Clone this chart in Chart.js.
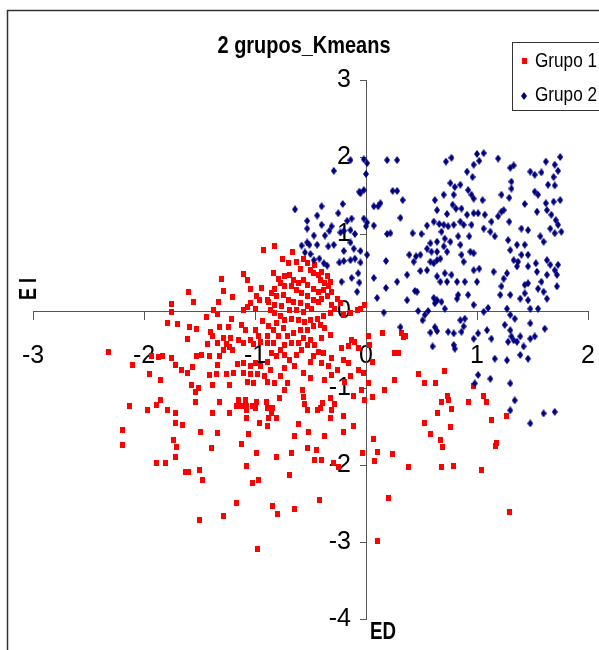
<!DOCTYPE html>
<html><head><meta charset="utf-8">
<script src="https://cdn.jsdelivr.net/npm/chart.js@4"></script>
<style>html,body{margin:0;padding:0;background:#fff;overflow:hidden}#wrap{position:relative;width:599px;height:650px}</style>
</head><body><div id="wrap"><canvas id="c" width="599" height="650"></canvas></div>
<script>
const chartTitle = '2 grupos_Kmeans';
const seriesNames = ['Grupo 1', 'Grupo 2'];
const xAxisName = 'ED';
const yAxisName = 'E I';
const xTickValues = [-3, -2, -1, 0, 1, 2];
const xTickLabels = ['-3', '-2', '-1', '0', '1', '2'];
const yTickValues = [-4, -3, -2, -1, 0, 1, 2, 3];
const yTickLabels = ['-4', '-3', '-2', '-1', '0', '1', '2', '3'];

const grupo1 = [
[-0.92,0.79],[-1.10,0.48],[-1.07,0.40],[-1.30,0.41],[-1.28,0.26],[-1.60,0.25],[-1.55,0.12],[-1.33,0.12],[-1.20,0.18],[-1.04,0.28],
[-0.94,0.30],[-0.99,0.19],[-0.96,0.14],[-0.89,0.14],[-0.88,0.12],[-1.04,0.11],[-1.75,0.09],[-1.75,-0.01],[-1.37,0.01],[-1.34,-0.04],
[-1.44,-0.08],[-1.21,-0.10],[-1.10,0.01],[-1.07,0.05],[-1.00,0.03],[-1.79,-0.15],[-1.70,-0.17],[-1.59,-0.21],[-1.53,-0.23],[-1.61,-0.37],
[-1.40,-0.27],[-1.32,-0.21],[-1.24,-0.21],[-1.38,-0.32],[-1.28,-0.35],[-1.22,-0.35],[-1.12,-0.18],[-1.09,-0.25],[-1.00,-0.25],[-0.97,-0.33],
[-0.93,-0.13],[-0.88,-0.20],[-0.89,-0.33],[-1.43,-0.43],[-1.34,-0.42],[-1.26,-0.43],[-1.15,-0.38],[-1.10,-0.41],[-1.04,-0.38],[-1.01,-0.43],
[-0.95,-0.40],[-0.89,-0.42],[-2.32,-0.53],[-2.10,-0.70],[-1.95,-0.82],[-1.93,-0.58],[-1.87,-0.60],[-1.83,-0.58],[-1.75,-0.61],[-1.72,-0.70],
[-1.66,-0.76],[-1.61,-0.81],[-1.56,-0.73],[-1.53,-0.58],[-1.48,-0.57],[-1.41,-0.58],[-1.32,-0.59],[-1.28,-0.51],[-1.23,-0.47],[-1.20,-0.51],
[-1.16,-0.69],[-1.34,-0.70],[-1.41,-0.83],[-1.35,-0.82],[-1.26,-0.82],[-1.19,-0.81],[-1.23,-0.96],[-1.10,-0.68],[-1.04,-0.72],[-1.00,-0.68],
[-0.95,-0.72],[-0.89,-0.66],[-1.10,-0.81],[-1.04,-0.82],[-0.98,-0.82],[-0.91,-0.85],[-0.86,-0.77],[-1.07,-0.92],[-1.01,-0.94],[-1.57,-0.96],
[-1.51,-1.00],[-1.38,-0.96],[-1.85,-0.90],[-0.89,-0.92],
[-1.54,-1.05],[-1.54,-1.18],[-1.65,-1.48],[-1.49,-1.57],[-1.39,-1.78],[-1.34,-1.59],[-1.63,-2.09],[-1.60,-2.09],[-1.50,-2.06],[-1.47,-2.19],
[-1.32,-1.18],[-1.38,-1.33],[-1.23,-1.33],[-1.17,-1.24],[-1.12,-1.24],[-1.15,-1.16],[-1.09,-1.16],[-1.08,-1.24],[-1.02,-1.23],[-1.00,-1.26],
[-0.99,-1.18],[-1.08,-1.39],[-1.08,-1.29],[-0.96,-1.45],[-0.89,-1.49],[-0.88,-1.39],[-0.84,-1.26],[-0.85,-1.33],[-0.81,-1.39],[-0.89,-1.26],
[-0.90,-1.18],[-0.78,-1.13],[-0.73,-1.03],[-0.57,-1.03],[-0.56,-1.12],[-0.55,-1.21],[-0.53,-1.28],[-0.61,-1.47],[-0.64,-1.62],[-0.52,-1.57],
[-0.44,-1.28],[-0.41,-1.26],[-0.39,-1.20],[-0.32,-1.13],[-0.28,-1.21],[-0.31,-1.29],[-0.32,-1.39],[-0.20,-1.37],[-0.11,-1.49],[-0.20,-1.57],
[-0.37,-1.62],[-0.53,-1.78],[-0.45,-1.80],[-0.46,-1.93],[-0.40,-1.94],[-0.67,-1.85],[-0.81,-1.89],[-0.99,-1.85],[-1.12,-1.73],[-1.06,-1.60],
[-1.08,-2.01],[-1.02,-2.24],[-0.97,-2.19],[-0.69,-2.13],[-0.29,-1.98],[-0.25,-2.02],[-0.03,-1.85],[-0.01,-1.15],[-0.11,-1.11],
[-2.13,-1.24],[-1.97,-1.29],[-1.89,-1.22],[-1.85,-1.15],[-1.79,-1.29],[-1.72,-1.33],[-1.72,-1.45],[-2.19,-1.55],[-2.19,-1.74],[-1.73,-1.67],
[-1.71,-1.77],[-1.72,-1.90],[-1.89,-1.98],[-1.81,-1.98],[-1.17,-2.49],[-1.28,-2.66],[-1.50,-2.71],[-0.98,-3.09],
[-0.82,0.84],[-0.66,0.76],[-0.75,0.67],[-0.70,0.62],[-0.63,0.64],[-0.56,0.68],[-0.53,0.62],[-0.59,0.55],[-0.50,0.53],[-0.46,0.60],
[-0.47,0.49],[-0.43,0.47],[-0.40,0.51],[-0.35,0.45],[-0.32,0.38],[-0.37,0.36],[-0.41,0.40],[-0.83,0.49],[-0.79,0.42],[-0.73,0.45],
[-0.69,0.47],[-0.65,0.40],[-0.61,0.36],[-0.56,0.40],[-0.53,0.34],[-0.47,0.29],[-0.43,0.25],[-0.38,0.27],[-0.34,0.32],[-0.31,0.25],
[-0.35,0.19],[-0.40,0.16],[-0.43,0.12],[-0.47,0.14],[-0.53,0.19],[-0.58,0.23],[-0.63,0.27],[-0.67,0.32],[-0.73,0.32],[-0.77,0.36],
[-0.82,0.29],[-0.85,0.23],[-0.81,0.19],[-0.74,0.21],[-0.70,0.14],[-0.65,0.12],[-0.59,0.10],[-0.53,0.06],[-0.49,0.03],[-0.56,-0.01],
[-0.63,0.01],[-0.69,0.01],[-0.76,0.06],[-0.82,0.08],[-0.86,0.01],[-0.82,-0.03],[-0.77,-0.07],[-0.73,-0.12],[-0.67,-0.10],[-0.61,-0.12],
[-0.55,-0.14],[-0.50,-0.12],[-0.44,-0.10],[-0.38,-0.07],[-0.32,-0.03],[-0.28,0.03],[-0.20,-0.05],[-0.14,-0.03],[-0.08,0.01],[-0.05,0.03],
[-0.01,0.08],[-0.23,0.10],[-0.26,0.16],[-0.31,0.08],[-0.81,-0.16],[-0.74,-0.22],[-0.83,-0.25],[-0.79,-0.33],[-0.71,-0.33],[-0.65,-0.29],
[-0.59,-0.25],[-0.53,-0.25],[-0.47,-0.20],[-0.41,-0.18],[-0.37,-0.22],[-0.56,-0.35],[-0.61,-0.42],[-0.67,-0.42],[-0.73,-0.44],[-0.77,-0.51],
[-0.83,-0.42],[-0.85,-0.55],[-0.81,-0.59],[-0.73,-0.57],[-0.69,-0.64],[-0.63,-0.57],[-0.58,-0.51],[-0.53,-0.44],[-0.50,-0.38],[-0.46,-0.44],
[-0.40,-0.35],[-0.32,-0.31],[-0.38,-0.55],[-0.43,-0.53],[-0.47,-0.59],[-0.50,-0.66],[-0.40,-0.68],[-0.34,-0.72],[-0.31,-0.61],[-0.22,-0.48],
[-0.16,-0.46],[-0.13,-0.38],[-0.10,-0.40],[-0.07,-0.48],[-0.20,-0.64],[-0.16,-0.68],[-0.26,-0.77],[-0.14,-0.85],[-0.19,-0.92],[-0.07,-0.77],
[-0.02,-0.81],[-0.31,-0.83],[-0.37,-0.90],[-0.50,-0.87],[-0.56,-0.81],[-0.64,-0.72],[-0.73,-0.74],[-0.77,-0.85],[-0.82,-0.94],[-0.71,-0.94],
[-0.04,-1.02],
[0.02,-0.32],[0.15,-0.28],[0.32,-0.28],[0.34,-0.34],[0.36,-0.33],[0.03,-0.44],[0.26,-0.54],[0.29,-0.54],[0.06,-0.66],[0.02,-0.93],
[0.06,-1.12],[0.17,-1.03],[0.26,-0.90],[0.47,-0.82],[0.53,-0.94],[0.63,-0.94],[0.64,-1.32],[0.53,-1.45],[0.58,-1.60],[0.67,-1.68],
[0.69,-1.77],[1.18,-1.71],[1.17,-1.75],[0.07,-1.66],[0.10,-1.83],[0.08,-1.95],[0.24,-1.86],[0.38,-2.03],[0.68,-2.03],[0.79,-2.01],
[1.04,-2.07],[0.20,-2.43],[1.29,-2.61],[0.10,-2.99],
[0.71,-0.78],[0.97,-0.98],[0.73,-1.11],[0.74,-1.16],[0.68,-1.18],[0.92,-1.18],[1.06,-1.11],[1.09,-1.18],[0.77,-1.27],[1.13,-1.42],
[1.27,-1.37],[0.76,-1.50],
[-0.84,-2.53],[-0.80,-2.64],[-0.64,-2.57],[-0.42,-2.46]
];

const grupo2 = [
[0.72,1.94],[0.77,1.99],[1.00,2.04],[1.06,2.05],[1.02,1.95],[1.19,1.98],[0.97,1.90],[0.91,1.81],[0.96,1.74],[1.30,1.86],
[1.33,1.89],[1.48,1.81],[1.52,1.77],[1.58,1.80],[1.62,1.94],[1.70,1.90],[1.75,2.00],[1.73,1.82],[1.69,1.74],[1.64,1.64],
[1.70,1.63],[1.31,1.68],[1.31,1.59],[1.22,1.51],[1.29,1.47],[0.76,1.66],[0.80,1.61],[0.85,1.64],[0.92,1.57],[0.95,1.51],
[0.97,1.46],[1.05,1.44],[0.70,1.51],[0.79,1.51],[0.78,1.38],[0.81,1.33],[0.73,1.26],[0.86,1.33],[0.91,1.25],[0.97,1.27],
[1.01,1.27],[1.07,1.25],[1.13,1.16],[1.22,1.29],[1.24,1.31],[1.19,1.23],[1.29,1.16],[1.43,1.39],[1.52,1.55],[1.55,1.51],
[1.54,1.29],[1.62,1.40],[1.69,1.42],[1.75,1.44],[1.63,1.31],[1.67,1.25],[1.71,1.18],[1.73,1.12],[1.76,1.03],[1.70,1.01],
[1.66,1.07],[1.57,0.97],[1.60,0.90],[1.40,1.07],[1.46,1.05],[0.70,1.12],[0.74,1.10],[0.79,1.12],[0.85,1.16],[0.88,1.12],
[0.95,1.12],[1.06,1.07],[1.12,1.03],[1.16,0.97],[1.28,0.92],[1.30,0.79],[1.36,0.86],[1.40,0.73],[1.43,0.86],[1.46,0.73],
[1.37,0.64],[1.33,0.66],[1.36,0.58],[1.46,0.58],[1.53,0.62],[1.63,0.66],[1.66,0.60],[1.70,0.53],[1.73,0.60],[1.72,0.47],
[1.72,0.32],[1.63,0.47],[1.58,0.38],[1.55,0.29],[1.60,0.25],[1.63,0.16],[1.54,0.51],[1.46,0.36],[1.43,0.23],[1.46,0.14],
[1.48,0.03],[1.55,0.03],[0.68,1.03],[0.71,0.94],[0.70,0.84],[0.73,0.77],[0.67,0.68],[0.76,0.90],[0.83,0.97],[0.85,0.86],
[0.86,0.73],[0.88,0.64],[0.94,0.77],[0.97,0.75],[0.93,0.97],[0.71,0.49],[0.77,0.47],[0.73,0.38],[0.82,0.38],[0.89,0.38],
[0.83,0.21],[0.82,0.16],[0.92,0.21],[0.97,0.08],[1.06,-0.01],[1.10,0.04],[1.27,0.03],[1.30,-0.05],[1.34,-0.10],[1.39,0.16],
[1.43,0.34],[1.27,0.49],[1.24,0.42],[1.22,0.32],[1.30,0.21],[1.21,0.21],[1.15,0.51],[1.02,0.55],[0.97,0.53],[1.00,0.38],
[0.67,0.38],[0.68,0.12],[0.71,0.03],[0.85,-0.12],[0.89,-0.10],[0.88,-0.20],[0.86,-0.27],[0.74,-0.27],[0.79,-0.29],[0.79,-0.44],
[0.80,-0.49],[0.97,-0.36],[1.09,-0.25],[1.13,-0.36],[1.01,-0.29],[1.25,-0.18],[1.30,-0.25],[1.33,-0.38],[1.31,-0.33],[1.39,-0.33],
[1.36,-0.40],[1.42,-0.46],[1.48,-0.36],[1.52,-0.33],[1.48,-0.16],[1.61,-0.23],[1.28,-0.40],[1.16,-0.62],[1.27,-0.64],[1.39,-0.57],
[1.46,-0.62],[1.01,-0.83],[1.12,-0.88],[0.98,-0.94],[1.30,-0.94],[1.34,-1.16],[1.30,-1.29],[1.48,-1.46],[1.60,-1.33],[1.70,-1.31],
[-0.14,1.96],[-0.02,1.97],[0.01,1.92],[0.00,1.78],[0.19,1.96],[0.28,1.96],[-0.29,1.82],[-0.64,1.32],[-0.40,1.36],[-0.21,1.39],
[-0.44,1.24],[-0.25,1.27],[-0.17,1.17],[-0.13,1.20],[-0.02,1.20],[-0.05,1.53],[-0.06,1.55],[-0.02,1.57],[0.01,1.15],[0.00,1.10],
[0.07,1.11],[0.11,1.36],[0.13,1.40],[0.07,1.36],[0.24,1.56],[0.28,1.56],[0.33,1.44],[0.31,1.21],[0.22,1.01],[0.19,1.00],
[0.42,1.01],[-0.53,1.17],[-0.53,1.07],[-0.40,1.12],[-0.31,1.10],[-0.33,1.04],[-0.37,0.98],[-0.47,0.98],[-0.23,1.02],[-0.20,1.04],
[-0.14,1.05],[-0.10,1.00],[-0.53,0.89],[-0.51,0.86],[-0.58,0.85],[-0.55,0.76],[-0.50,0.74],[-0.44,0.86],[-0.34,0.84],[-0.29,0.86],
[-0.14,0.89],[-0.11,0.81],[-0.05,0.78],[0.01,0.73],[-0.20,0.78],[-0.47,0.66],[-0.42,0.68],[-0.38,0.62],[-0.35,0.59],[-0.24,0.63],
[-0.20,0.65],[-0.14,0.66],[-0.10,0.68],[-0.05,0.63],[-0.07,0.49],[-0.13,0.43],[-0.22,0.38],[-0.06,0.37],[-0.08,0.25],[0.18,0.65],
[0.07,0.43],[0.18,0.30],[0.10,0.17],[0.28,0.38],[0.37,0.47],[0.37,0.14],[0.44,0.26],[0.46,0.25],[0.39,0.73],[0.43,0.64],
[0.49,0.73],[0.45,0.71],[0.49,0.52],[0.55,0.53],[0.61,0.62],[0.53,-0.05],[0.47,0.00],[0.51,-0.12],[0.56,0.00],[0.16,-0.02],
[0.50,1.00],[0.55,1.11],[0.61,1.16],[0.66,1.13],[0.62,1.44],[0.64,1.31],[0.58,0.88],[0.64,0.90],[0.55,0.81],[0.59,0.77],
[0.64,0.77],[0.64,0.66],[0.58,0.64],[0.64,0.45],[0.64,0.14],[0.61,0.17],[0.62,0.10],
[0.31,-0.21],[0.58,-0.28],[0.60,-0.46],[0.62,-0.21],[0.64,-0.26]
];

const FONT = "'Liberation Sans Narrow', 'Arial Narrow', 'Liberation Sans', Arial, sans-serif";
const RED = '#FF0000';
const NAVY = '#000080';

function squareMarker(color) {
  const c = document.createElement('canvas');
  c.width = 5; c.height = 6;
  const g = c.getContext('2d');
  g.fillStyle = color; g.fillRect(0, 0, 5, 6);
  return c;
}
function diamondMarker(color) {
  const c = document.createElement('canvas');
  c.width = 6; c.height = 8;
  const g = c.getContext('2d');
  g.fillStyle = color;
  g.beginPath(); g.moveTo(3, 0); g.lineTo(6, 4); g.lineTo(3, 8); g.lineTo(0, 4); g.closePath(); g.fill();
  return c;
}
const redMark = squareMarker(RED);
const blueMark = diamondMarker(NAVY);

// draw text condensed horizontally to a given width (emulates a narrow face)
function narrowText(ctx, text, x, y, width, align) {
  const w = ctx.measureText(text).width;
  const s = w > 0 ? width / w : 1;
  ctx.save();
  ctx.translate(x, y);
  ctx.scale(s, 1);
  ctx.textAlign = align;
  ctx.fillText(text, 0, 0);
  ctx.restore();
}

const decor = {
  id: 'decor',
  beforeDraw(chart) {
    const ctx = chart.ctx;
    ctx.save();
    ctx.fillStyle = '#fff';
    ctx.fillRect(0, 0, chart.width, chart.height);
    ctx.strokeStyle = '#333';
    ctx.lineWidth = 1.5;
    ctx.strokeRect(7.5, 10.5, 800, 800);
    ctx.restore();
    // move tick labels away from the crossing axes
    const xs = chart.scales.x, ys = chart.scales.y;
    if (xs && typeof xs.getLabelItems === 'function') {
      const it = xs.getLabelItems(chart.chartArea);
      if (it && !it._adj) { it.forEach(o => { o.options.translation[1] += 22; }); it._adj = true; }
    }
    if (ys && typeof ys.getLabelItems === 'function') {
      const it = ys.getLabelItems(chart.chartArea);
      if (it && !it._adj) { it.forEach(o => { o.options.translation[0] -= 15; }); it._adj = true; }
    }
  },
  afterDraw(chart) {
    const ctx = chart.ctx;
    ctx.save();
    ctx.fillStyle = '#000';
    ctx.textBaseline = 'middle';
    ctx.font = 'bold 24px ' + FONT;
    narrowText(ctx, chartTitle, 304, 46, 173, 'center');

    // legend
    ctx.fillStyle = '#fff';
    ctx.fillRect(512, 42, 120, 68);
    ctx.strokeStyle = '#333';
    ctx.lineWidth = 1;
    ctx.strokeRect(512.5, 42.5, 120, 68);
    ctx.drawImage(redMark, 522, 58);
    ctx.drawImage(blueMark, 521, 92);
    ctx.fillStyle = '#000';
    ctx.font = '21px ' + FONT;
    narrowText(ctx, seriesNames[0], 535, 61, 62, 'left');
    narrowText(ctx, seriesNames[1], 535, 95, 62, 'left');

    // axis names
    ctx.font = 'bold 24px ' + FONT;
    narrowText(ctx, xAxisName, 370, 632, 26, 'left');
    ctx.translate(29, 289);
    ctx.rotate(-Math.PI / 2);
    narrowText(ctx, yAxisName, 0, 0, 22, 'center');
    ctx.restore();
  }
};

const toPoints = arr => arr.map(p => ({x: p[0], y: p[1]}));

new Chart(document.getElementById('c'), {
  type: 'scatter',
  data: {
    datasets: [
      { label: seriesNames[0], data: toPoints(grupo1), pointStyle: redMark, backgroundColor: RED, borderColor: RED, order: 2 },
      { label: seriesNames[1], data: toPoints(grupo2), pointStyle: blueMark, backgroundColor: NAVY, borderColor: NAVY, order: 1 }
    ]
  },
  options: {
    responsive: false,
    animation: false,
    devicePixelRatio: 1,
    layout: { padding: { left: 33, right: 11, top: 80, bottom: 31 } },
    plugins: { legend: { display: false }, title: { display: false }, tooltip: { enabled: false } },
    scales: {
      x: {
        type: 'linear', min: -3, max: 2, position: { y: 0 },
        afterBuildTicks: s => { s.ticks = xTickValues.map(v => ({ value: v })); },
        ticks: { font: { family: FONT, size: 25 }, color: '#000', padding: 0, maxRotation: 0, autoSkip: false,
                 callback: (v, i) => xTickLabels[i] },
        grid: { drawOnChartArea: false, drawTicks: true, tickLength: 8, color: '#555', lineWidth: 1 },
        border: { display: true, color: '#555', width: 1 }
      },
      y: {
        type: 'linear', min: -4, max: 3, position: { x: 0 },
        afterBuildTicks: s => { s.ticks = yTickValues.map(v => ({ value: v })); },
        ticks: { font: { family: FONT, size: 25 }, color: '#000', padding: 0, autoSkip: false,
                 callback: (v, i) => yTickLabels[i] },
        grid: { drawOnChartArea: false, drawTicks: true, tickLength: 6, color: '#555', lineWidth: 1 },
        border: { display: true, color: '#555', width: 1 }
      }
    }
  },
  plugins: [decor]
});
</script></body></html>
